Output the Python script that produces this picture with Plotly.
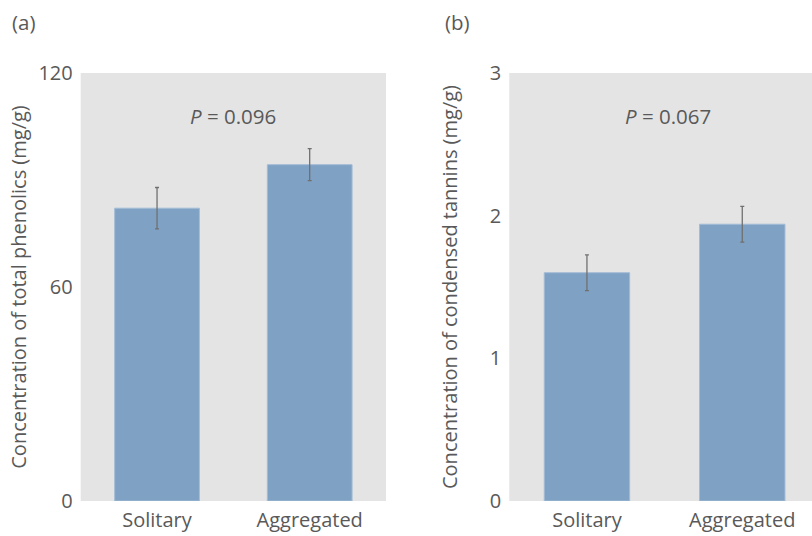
import plotly.graph_objects as go

# Group labels and measured means with standard errors
groups = ["Solitary", "Aggregated"]
phenolics_mean = [82.1, 94.3]
phenolics_se = [5.8, 4.5]
tannins_mean = [1.60, 1.94]
tannins_se = [0.125, 0.125]

p_phenolics = "0.096"
p_tannins = "0.067"

W, H = 812, 536
bar_color = "#7ea1c4"
bar_edge = "#a3bcd6"
text_color = "#595959"
bg_color = "#e4e4e4"
font_family = "Open Sans"

fig = go.Figure()

fig.add_trace(go.Bar(
    x=groups, y=phenolics_mean, width=0.555,
    marker=dict(color=bar_color, line=dict(color=bar_edge, width=1)),
    error_y=dict(type="data", array=phenolics_se, color="#707070", thickness=1.3, width=2),
    xaxis="x", yaxis="y", showlegend=False,
))
fig.add_trace(go.Bar(
    x=groups, y=tannins_mean, width=0.55,
    marker=dict(color=bar_color, line=dict(color=bar_edge, width=1)),
    error_y=dict(type="data", array=tannins_se, color="#707070", thickness=1.3, width=2),
    xaxis="x2", yaxis="y2", showlegend=False,
))

tick_font = dict(family=font_family, size=20, color=text_color)
title_font = dict(family=font_family, size=20, color=text_color)
ann_font = dict(family=font_family, size=20.5, color=text_color)

common_x = dict(showgrid=False, zeroline=False, showline=False, ticks="",
                tickfont=tick_font, ticklabelstandoff=5, automargin=False,
                fixedrange=True)
common_y = dict(showgrid=False, zeroline=False, showline=False, ticks="",
                tickfont=tick_font, ticklabelstandoff=7, automargin=False)

fig.update_layout(
    width=W, height=H,
    margin=dict(l=0, r=0, t=0, b=0),
    paper_bgcolor="white",
    plot_bgcolor=bg_color,
    font=dict(family=font_family, color=text_color),
    xaxis=dict(domain=[0.0994, 0.4754], range=[-0.5, 1.5], anchor="y", **common_x),
    yaxis=dict(domain=[0.0653, 0.8638], range=[0, 120], tickvals=[0, 60, 120],
               title=dict(text="Concentration of total phenolics (mg/g)",
                          font=title_font, standoff=6),
               anchor="x", **common_y),
    xaxis2=dict(domain=[0.6272, 1.0], range=[-0.5, 1.449], anchor="y2", **common_x),
    yaxis2=dict(domain=[0.0653, 0.8638], range=[0, 3], tickvals=[0, 1, 2, 3],
                title=dict(text="Concentration of condensed tannins (mg/g)",
                           font=title_font, standoff=26),
                anchor="x2", **common_y),
    annotations=[
        dict(text=f"<i>P</i> = {p_phenolics}", x=0.5, y=108, xref="x", yref="y",
             showarrow=False, font=ann_font),
        dict(text=f"<i>P</i> = {p_tannins}", x=0.52, y=2.7, xref="x2", yref="y2",
             showarrow=False, font=ann_font),
        dict(text="(a)", x=10 / W, y=1 - 22 / H, xref="paper", yref="paper",
             showarrow=False, xanchor="left", yanchor="middle", font=ann_font),
        dict(text="(b)", x=443 / W, y=1 - 22 / H, xref="paper", yref="paper",
             showarrow=False, xanchor="left", yanchor="middle", font=ann_font),
    ],
)

fig.write_html("out.html")
